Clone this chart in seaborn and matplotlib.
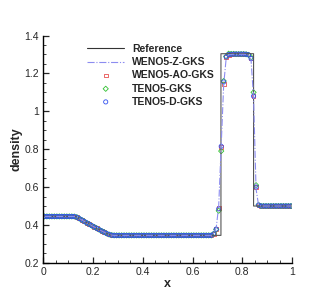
import matplotlib
matplotlib.use("Agg")
import matplotlib.pyplot as plt
import numpy as np
import seaborn as sns
from matplotlib.ticker import MultipleLocator, FormatStrFormatter

# cell centres, 100 cells on [0, 1]
x_cells = np.arange(100) * 0.01 + 0.005

# exact solution (breakpoints)
x_ref = [0.0, 0.131, 0.15, 0.175, 0.2, 0.225, 0.25, 0.272, 0.714, 0.714, 0.845, 0.845, 1.0]
rho_ref = [0.445, 0.445, 0.4303, 0.4113, 0.3930, 0.3753, 0.3583, 0.345, 0.345, 1.304, 1.304, 0.5, 0.5]

# smooth part shared by all schemes, x = 0.005 .. 0.675
rho_left = [
    0.445, 0.445, 0.445, 0.445, 0.445, 0.445, 0.445, 0.445, 0.445, 0.445,
    0.445, 0.445, 0.4445, 0.441, 0.434, 0.4265, 0.419, 0.411, 0.404, 0.3966,
    0.3894, 0.3823, 0.3753, 0.3684, 0.3617, 0.3552, 0.3495, 0.3462, 0.345, 0.345,
    0.345, 0.345, 0.345, 0.345, 0.345, 0.345, 0.345, 0.345, 0.345, 0.345,
    0.345, 0.345, 0.345, 0.345, 0.345, 0.345, 0.345, 0.345, 0.345, 0.345,
    0.345, 0.345, 0.345, 0.345, 0.345, 0.345, 0.345, 0.345, 0.345, 0.345,
    0.345, 0.345, 0.345, 0.345, 0.345, 0.345, 0.345, 0.345,
]

# x = 0.685 .. 0.995, contact + shock region for each scheme
rho_right_wenoz = [
    0.356, 0.385, 0.500, 0.820, 1.140, 1.280, 1.298, 1.300, 1.301, 1.301,
    1.301, 1.301, 1.301, 1.300, 1.296, 1.270, 1.070, 0.590, 0.505, 0.500,
    0.500, 0.500, 0.500, 0.500, 0.500, 0.500, 0.500, 0.500, 0.500, 0.500,
    0.500, 0.500,
]
rho_right_wenoao = [
    0.354, 0.380, 0.490, 0.810, 1.145, 1.285, 1.298, 1.301, 1.302, 1.302,
    1.302, 1.302, 1.302, 1.301, 1.299, 1.280, 1.080, 0.600, 0.505, 0.500,
    0.500, 0.500, 0.500, 0.500, 0.500, 0.500, 0.500, 0.500, 0.500, 0.500,
    0.500, 0.500,
]
rho_right_teno = [
    0.353, 0.376, 0.475, 0.790, 1.160, 1.290, 1.304, 1.303, 1.303, 1.302,
    1.302, 1.302, 1.302, 1.301, 1.298, 1.285, 1.100, 0.610, 0.506, 0.500,
    0.500, 0.500, 0.500, 0.500, 0.500, 0.500, 0.500, 0.500, 0.500, 0.500,
    0.500, 0.500,
]
rho_right_tenod = [
    0.353, 0.378, 0.485, 0.815, 1.155, 1.287, 1.300, 1.301, 1.302, 1.302,
    1.302, 1.302, 1.302, 1.301, 1.298, 1.278, 1.080, 0.600, 0.505, 0.500,
    0.500, 0.500, 0.500, 0.500, 0.500, 0.500, 0.500, 0.500, 0.500, 0.500,
    0.500, 0.500,
]

rho_wenoz = rho_left + rho_right_wenoz
rho_wenoao = rho_left + rho_right_wenoao
rho_teno = rho_left + rho_right_teno
rho_tenod = rho_left + rho_right_tenod

sns.set_style("white")
plt.rcParams["font.family"] = ["Liberation Sans", "DejaVu Sans"]

fig, ax = plt.subplots(figsize=(3.32, 2.96), dpi=100)
fig.subplots_adjust(left=0.13, right=0.88, bottom=0.112, top=0.88)

sns.lineplot(x=x_ref, y=rho_ref, ax=ax, sort=False, estimator=None,
             color="#555555", linewidth=0.8, label="Reference")
sns.lineplot(x=x_cells, y=rho_wenoz, ax=ax, sort=False, estimator=None,
             color="#8c8cf0", linewidth=0.8, linestyle="-.", label="WENO5-Z-GKS")
sns.scatterplot(x=x_cells, y=rho_wenoao, ax=ax, marker="s", s=7,
                facecolor="none", edgecolor="#e85050", linewidth=0.6,
                label="WENO5-AO-GKS")
sns.scatterplot(x=x_cells, y=rho_teno, ax=ax, marker="D", s=7,
                facecolor="none", edgecolor="#30c030", linewidth=0.6,
                label="TENO5-GKS")
sns.scatterplot(x=x_cells, y=rho_tenod, ax=ax, marker="o", s=9,
                facecolor="none", edgecolor="#3050f0", linewidth=0.6,
                label="TENO5-D-GKS")

ax.set_xlim(0, 1)
ax.set_ylim(0.2, 1.4)
ax.xaxis.set_major_locator(MultipleLocator(0.2))
ax.xaxis.set_minor_locator(MultipleLocator(0.05))
ax.yaxis.set_major_locator(MultipleLocator(0.2))
ax.yaxis.set_minor_locator(MultipleLocator(0.05))
ax.xaxis.set_major_formatter(FormatStrFormatter("%g"))
ax.yaxis.set_major_formatter(FormatStrFormatter("%g"))
ax.tick_params(which="major", direction="in", length=4, width=0.9,
               labelsize=7.5, pad=3, left=True, bottom=True)
ax.tick_params(which="minor", direction="in", length=2, width=0.6,
               left=True, bottom=True)

for side in ["top", "right"]:
    ax.spines[side].set_visible(False)
for side in ["left", "bottom"]:
    ax.spines[side].set_color("black")
    ax.spines[side].set_linewidth(1.0)

ax.set_xlabel("x", fontsize=9, fontweight="bold", labelpad=1)
ax.set_ylabel("density", fontsize=9, fontweight="bold", labelpad=1)

leg = ax.legend(loc="upper left", bbox_to_anchor=(0.155, 0.985), frameon=False,
                fontsize=7.5, handlelength=3.6, handletextpad=0.7,
                labelspacing=0.3, borderpad=0, markerscale=1.0)
for t in leg.get_texts():
    t.set_fontweight("bold")
leg.legend_handles[0].set_color("#333333")

fig.savefig("out.png", dpi=100)
